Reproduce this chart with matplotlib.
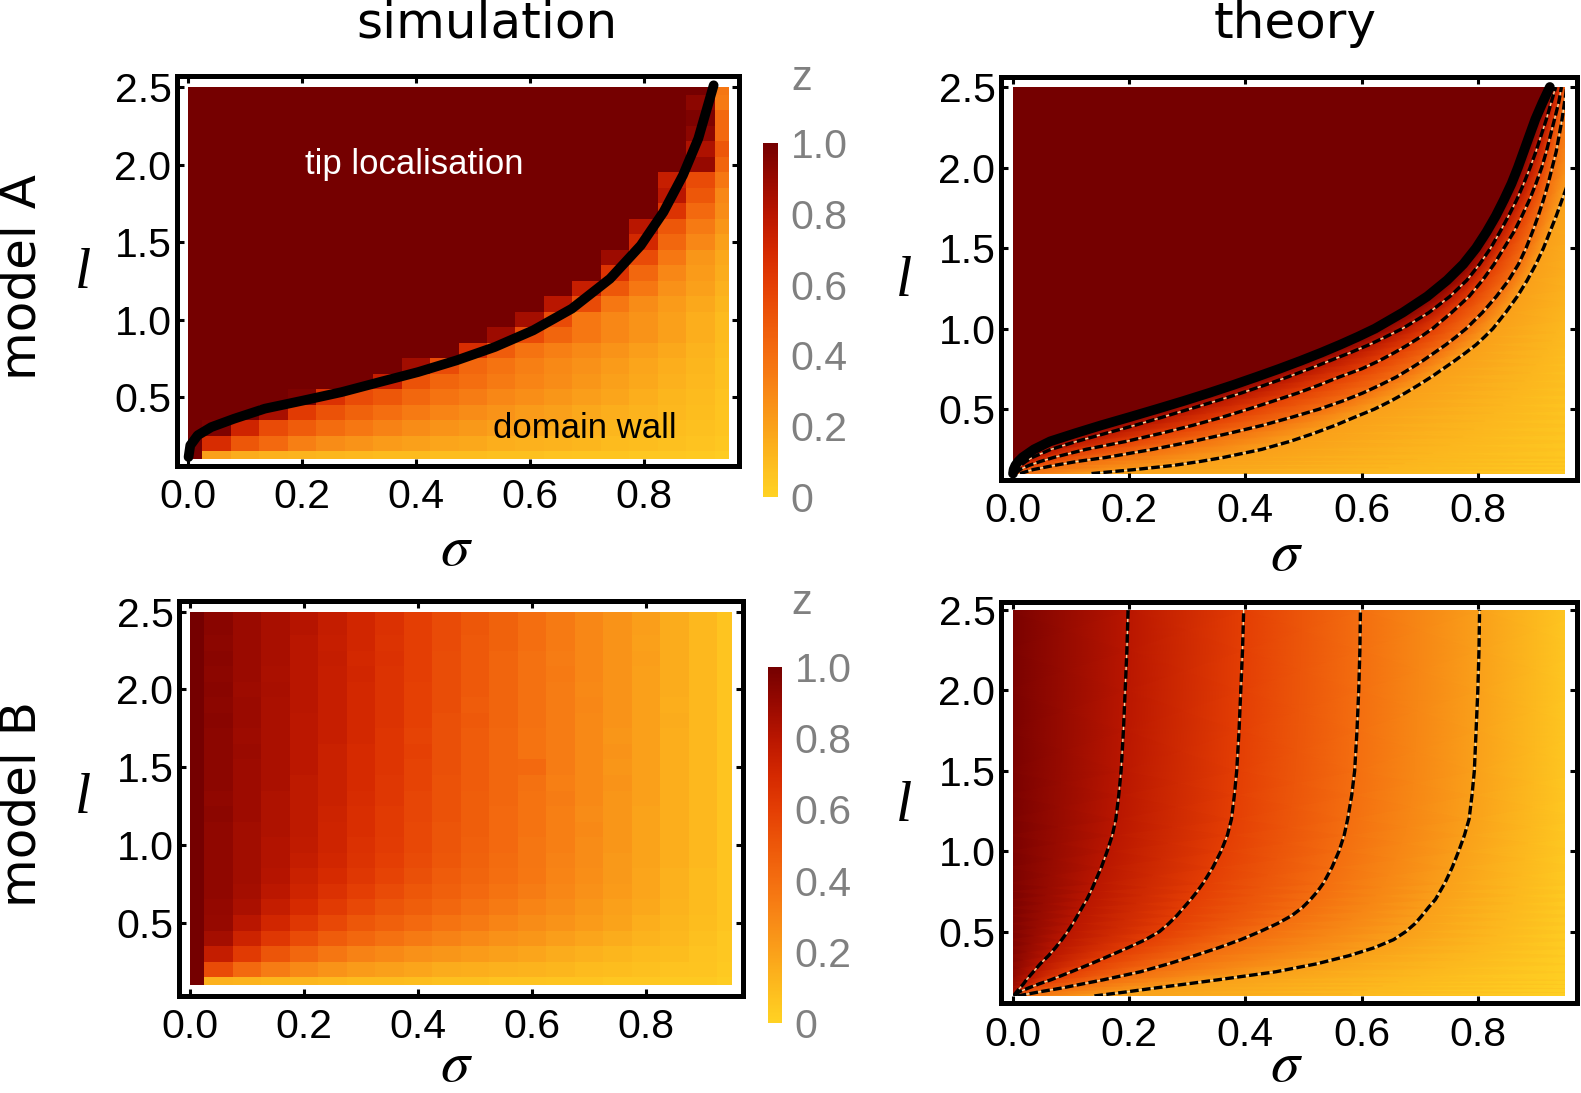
import numpy as np
import matplotlib
matplotlib.use('Agg')
import matplotlib.pyplot as plt
from matplotlib.colors import LinearSegmentedColormap
from matplotlib.patches import Rectangle

# ---- simulation grid ----
sigma = [0.0, 0.05, 0.1, 0.15, 0.2, 0.25, 0.3, 0.35, 0.4, 0.45,
         0.5, 0.55, 0.6, 0.65, 0.7, 0.75, 0.8, 0.85, 0.9, 0.95]
ell = [0.1, 0.2, 0.3, 0.4, 0.5, 0.6, 0.7, 0.8, 0.9, 1.0, 1.1, 1.2, 1.3,
       1.4, 1.5, 1.6, 1.7, 1.8, 1.9, 2.0, 2.1, 2.2, 2.3, 2.4, 2.5]

# model A, simulation (rows from l=0.1 up to l=2.5)
sim_a = [
    [1.0, 0.20, 0.16, 0.14, 0.13, 0.12, 0.11, 0.10, 0.10, 0.09, 0.09, 0.08, 0.08, 0.07, 0.06, 0.06, 0.05, 0.05, 0.04, 0.03],
    [1.0, 0.68, 0.50, 0.42, 0.33, 0.28, 0.25, 0.22, 0.20, 0.18, 0.17, 0.15, 0.14, 0.13, 0.12, 0.10, 0.09, 0.08, 0.07, 0.05],
    [1.0, 0.97, 0.72, 0.55, 0.48, 0.41, 0.36, 0.32, 0.28, 0.25, 0.23, 0.20, 0.18, 0.16, 0.14, 0.12, 0.10, 0.09, 0.08, 0.06],
    [1.0, 1.0, 1.0, 0.85, 0.62, 0.52, 0.45, 0.40, 0.35, 0.31, 0.28, 0.25, 0.22, 0.20, 0.17, 0.15, 0.13, 0.11, 0.09, 0.06],
    [1.0, 1.0, 1.0, 1.0, 0.97, 0.66, 0.55, 0.50, 0.43, 0.38, 0.34, 0.30, 0.27, 0.24, 0.21, 0.18, 0.15, 0.12, 0.10, 0.07],
    [1.0] * 7 + [0.75, 0.52, 0.44, 0.40, 0.35, 0.31, 0.28, 0.24, 0.20, 0.17, 0.14, 0.11, 0.08],
    [1.0] * 8 + [0.87, 0.55, 0.43, 0.38, 0.33, 0.29, 0.26, 0.22, 0.18, 0.15, 0.12, 0.08],
    [1.0] * 10 + [0.68, 0.48, 0.38, 0.33, 0.29, 0.25, 0.21, 0.17, 0.13, 0.09],
    [1.0] * 11 + [0.88, 0.55, 0.44, 0.36, 0.30, 0.25, 0.20, 0.15, 0.10],
    [1.0] * 12 + [0.86, 0.55, 0.36, 0.30, 0.25, 0.20, 0.15, 0.10],
    [1.0] * 13 + [0.80, 0.55, 0.36, 0.28, 0.22, 0.17, 0.12],
    [1.0] * 14 + [0.75, 0.50, 0.36, 0.26, 0.20, 0.14],
    [1.0] * 15 + [0.65, 0.43, 0.30, 0.22, 0.16],
    [1.0] * 15 + [0.88, 0.55, 0.36, 0.24, 0.17],
    [1.0] * 16 + [0.70, 0.43, 0.30, 0.20],
    [1.0] * 16 + [0.80, 0.50, 0.35, 0.24],
    [1.0] * 17 + [0.65, 0.42, 0.28],
    [1.0] * 17 + [0.80, 0.50, 0.30],
    [1.0] * 17 + [0.75, 0.55, 0.36],
    [1.0] * 18 + [0.90, 0.44],
    [1.0] * 18 + [0.83, 0.50],
    [1.0] * 18 + [0.93, 0.42],
    [1.0] * 18 + [0.97, 0.42],
    [1.0] * 18 + [0.93, 0.35],
    [1.0] * 19 + [0.37],
]

# model B, simulation
sim_b = [
    [1.0, 0.14, 0.13, 0.12, 0.12, 0.11, 0.10, 0.10, 0.09, 0.08, 0.08, 0.07, 0.07, 0.06, 0.06, 0.05, 0.05, 0.04, 0.04, 0.03],
    [1.0, 0.55, 0.42, 0.34, 0.29, 0.25, 0.22, 0.20, 0.18, 0.16, 0.15, 0.14, 0.13, 0.12, 0.10, 0.09, 0.08, 0.07, 0.06, 0.04],
    [1.0, 0.76, 0.62, 0.51, 0.43, 0.37, 0.32, 0.29, 0.26, 0.24, 0.22, 0.20, 0.18, 0.16, 0.14, 0.12, 0.10, 0.09, 0.07, 0.05],
    [1.0, 0.86, 0.73, 0.63, 0.55, 0.48, 0.43, 0.39, 0.35, 0.32, 0.29, 0.26, 0.24, 0.21, 0.18, 0.16, 0.13, 0.11, 0.08, 0.05],
    [1.0, 0.90, 0.80, 0.71, 0.63, 0.56, 0.50, 0.46, 0.42, 0.38, 0.35, 0.31, 0.28, 0.25, 0.22, 0.19, 0.15, 0.12, 0.09, 0.06],
    [1.0, 0.91, 0.84, 0.76, 0.69, 0.62, 0.56, 0.51, 0.47, 0.43, 0.39, 0.35, 0.31, 0.28, 0.24, 0.20, 0.17, 0.13, 0.10, 0.06],
    [1.0, 0.92, 0.86, 0.79, 0.72, 0.66, 0.60, 0.55, 0.50, 0.46, 0.42, 0.38, 0.34, 0.30, 0.26, 0.22, 0.18, 0.14, 0.10, 0.06],
    [1.0, 0.92, 0.87, 0.81, 0.74, 0.69, 0.63, 0.58, 0.53, 0.48, 0.44, 0.40, 0.36, 0.31, 0.27, 0.23, 0.18, 0.14, 0.10, 0.06],
    [1.0, 0.92, 0.87, 0.82, 0.76, 0.71, 0.65, 0.60, 0.55, 0.50, 0.45, 0.41, 0.37, 0.32, 0.28, 0.23, 0.19, 0.15, 0.11, 0.06],
    [1.0, 0.92, 0.87, 0.82, 0.77, 0.72, 0.66, 0.61, 0.56, 0.51, 0.46, 0.42, 0.37, 0.33, 0.28, 0.24, 0.19, 0.15, 0.11, 0.06],
    [1.0, 0.92, 0.87, 0.83, 0.78, 0.72, 0.67, 0.62, 0.56, 0.51, 0.47, 0.42, 0.38, 0.33, 0.29, 0.24, 0.19, 0.15, 0.11, 0.06],
    [1.0, 0.93, 0.88, 0.83, 0.78, 0.73, 0.67, 0.62, 0.57, 0.52, 0.47, 0.42, 0.38, 0.33, 0.28, 0.24, 0.19, 0.15, 0.11, 0.06],
    [1.0, 0.92, 0.88, 0.83, 0.78, 0.74, 0.68, 0.63, 0.57, 0.52, 0.47, 0.43, 0.38, 0.34, 0.29, 0.24, 0.20, 0.15, 0.11, 0.06],
    [1.0, 0.93, 0.88, 0.84, 0.78, 0.74, 0.69, 0.63, 0.58, 0.52, 0.48, 0.43, 0.39, 0.33, 0.29, 0.25, 0.20, 0.15, 0.11, 0.06],
    [1.0, 0.93, 0.88, 0.84, 0.79, 0.74, 0.69, 0.64, 0.58, 0.53, 0.48, 0.43, 0.42, 0.34, 0.29, 0.24, 0.20, 0.15, 0.11, 0.06],
    [1.0, 0.93, 0.89, 0.84, 0.79, 0.74, 0.69, 0.64, 0.59, 0.53, 0.48, 0.43, 0.38, 0.34, 0.29, 0.25, 0.20, 0.15, 0.11, 0.06],
    [1.0, 0.93, 0.88, 0.84, 0.79, 0.75, 0.70, 0.64, 0.58, 0.53, 0.48, 0.43, 0.38, 0.34, 0.29, 0.24, 0.20, 0.15, 0.11, 0.06],
    [1.0, 0.94, 0.89, 0.84, 0.79, 0.75, 0.70, 0.65, 0.59, 0.53, 0.49, 0.44, 0.39, 0.34, 0.29, 0.25, 0.20, 0.16, 0.11, 0.06],
    [1.0, 0.93, 0.89, 0.84, 0.80, 0.75, 0.70, 0.65, 0.59, 0.54, 0.48, 0.44, 0.39, 0.34, 0.30, 0.25, 0.20, 0.15, 0.11, 0.06],
    [1.0, 0.94, 0.88, 0.85, 0.80, 0.75, 0.70, 0.65, 0.59, 0.54, 0.49, 0.44, 0.39, 0.34, 0.29, 0.25, 0.20, 0.16, 0.11, 0.06],
    [1.0, 0.93, 0.89, 0.84, 0.80, 0.75, 0.71, 0.65, 0.60, 0.54, 0.49, 0.44, 0.39, 0.35, 0.30, 0.25, 0.20, 0.16, 0.11, 0.06],
    [1.0, 0.94, 0.89, 0.85, 0.80, 0.76, 0.70, 0.66, 0.60, 0.54, 0.49, 0.44, 0.39, 0.34, 0.30, 0.25, 0.21, 0.16, 0.11, 0.06],
    [1.0, 0.93, 0.89, 0.85, 0.80, 0.75, 0.71, 0.65, 0.60, 0.55, 0.49, 0.45, 0.40, 0.35, 0.30, 0.25, 0.20, 0.16, 0.11, 0.06],
    [1.0, 0.94, 0.89, 0.85, 0.81, 0.76, 0.71, 0.66, 0.60, 0.55, 0.50, 0.45, 0.40, 0.35, 0.30, 0.25, 0.21, 0.16, 0.11, 0.06],
    [1.0, 0.93, 0.89, 0.85, 0.80, 0.76, 0.71, 0.66, 0.60, 0.55, 0.50, 0.45, 0.40, 0.35, 0.30, 0.26, 0.21, 0.16, 0.11, 0.06],
]

# phase boundary (sigma, l)
edge_sim_s = [0.001, 0.004, 0.017, 0.041, 0.081, 0.135, 0.203, 0.270, 0.337, 0.404,
              0.472, 0.539, 0.606, 0.674, 0.741, 0.795, 0.835, 0.869, 0.896, 0.923]
edge_sim_l = [0.113, 0.188, 0.253, 0.306, 0.360, 0.425, 0.478, 0.532, 0.597, 0.661,
              0.737, 0.823, 0.930, 1.070, 1.263, 1.478, 1.694, 1.930, 2.167, 2.511]

# ---- theory, model A: sigma position of the boundary and of the z contours, per l ----
th_a_l = [0.1, 0.125, 0.15, 0.175, 0.2, 0.25, 0.3, 0.35, 0.4, 0.45, 0.5, 0.55,
          0.6, 0.65, 0.7, 0.75, 0.8, 0.85, 0.9, 0.95, 1.0, 1.1, 1.2, 1.3,
          1.4, 1.5, 1.6, 1.7, 1.8, 1.9, 2.0, 2.1, 2.2, 2.3, 2.4, 2.5]
th_a_edge = [0.0, 0.001, 0.004, 0.009, 0.016, 0.036, 0.064, 0.107, 0.152, 0.2, 0.247, 0.293,
             0.337, 0.379, 0.419, 0.458, 0.495, 0.53, 0.563, 0.594, 0.623, 0.671, 0.713, 0.747,
             0.775, 0.797, 0.815, 0.831, 0.845, 0.858, 0.869, 0.879, 0.889, 0.899, 0.911, 0.924]
th_a_c08 = [0.002, 0.006, 0.013, 0.022, 0.033, 0.065, 0.11, 0.16, 0.21, 0.257, 0.303, 0.349,
            0.393, 0.434, 0.473, 0.51, 0.545, 0.58, 0.613, 0.642, 0.67, 0.716, 0.752, 0.781,
            0.803, 0.822, 0.838, 0.853, 0.867, 0.879, 0.89, 0.9, 0.909, 0.918, 0.926, 0.934]
th_a_c06 = [0.004, 0.012, 0.027, 0.047, 0.07, 0.125, 0.195, 0.255, 0.31, 0.36, 0.405, 0.448,
            0.49, 0.527, 0.562, 0.6, 0.63, 0.656, 0.68, 0.702, 0.722, 0.755, 0.785, 0.808,
            0.828, 0.845, 0.862, 0.876, 0.889, 0.9, 0.91, 0.918, 0.925, 0.932, 0.939, 0.944]
th_a_c04 = [0.012, 0.035, 0.07, 0.11, 0.16, 0.24, 0.31, 0.372, 0.43, 0.48, 0.527, 0.567,
            0.602, 0.632, 0.66, 0.683, 0.705, 0.725, 0.745, 0.763, 0.78, 0.808, 0.832, 0.853,
            0.87, 0.883, 0.894, 0.904, 0.913, 0.921, 0.928, 0.935, 0.94, 0.945, 0.949, 0.953]
th_a_c02 = [0.135, 0.21, 0.275, 0.322, 0.362, 0.428, 0.477, 0.518, 0.555, 0.588, 0.622, 0.65,
            0.675, 0.698, 0.72, 0.74, 0.76, 0.779, 0.797, 0.812, 0.826, 0.848, 0.868, 0.885,
            0.9, 0.913, 0.924, 0.935, 0.945, 0.955, 0.965, 0.973, 0.98, 0.988, 0.995, 1.0]
th_a_right = [0.02, 0.02, 0.02, 0.02, 0.02, 0.02, 0.02, 0.02, 0.02, 0.02, 0.02, 0.02,
              0.02, 0.03, 0.03, 0.03, 0.03, 0.03, 0.03, 0.03, 0.03, 0.04, 0.05, 0.055,
              0.06, 0.07, 0.08, 0.09, 0.10, 0.11, 0.12, 0.13, 0.14, 0.15, 0.16, 0.18]

# ---- theory, model B ----
th_b_l = [0.1, 0.125, 0.15, 0.175, 0.2, 0.25, 0.3, 0.35, 0.4, 0.45, 0.5, 0.55, 0.6, 0.65,
          0.7, 0.75, 0.8, 0.9, 1.0, 1.1, 1.2, 1.35, 1.5, 1.75, 2.0, 2.25, 2.5]
th_b_c08 = [0.001, 0.006, 0.012, 0.018, 0.023, 0.035, 0.047, 0.061, 0.073, 0.084, 0.094, 0.103,
            0.111, 0.119, 0.127, 0.134, 0.14, 0.152, 0.162, 0.171, 0.177, 0.182, 0.186, 0.19,
            0.193, 0.196, 0.198]
th_b_c06 = [0.004, 0.01, 0.027, 0.045, 0.065, 0.1, 0.134, 0.166, 0.198, 0.228, 0.252, 0.268,
            0.282, 0.294, 0.306, 0.317, 0.327, 0.344, 0.358, 0.369, 0.376, 0.381, 0.385, 0.389,
            0.392, 0.395, 0.397]
th_b_c04 = [0.008, 0.045, 0.085, 0.12, 0.155, 0.219, 0.268, 0.312, 0.354, 0.392, 0.425, 0.455,
            0.48, 0.498, 0.512, 0.524, 0.534, 0.549, 0.561, 0.57, 0.576, 0.583, 0.588, 0.592,
            0.595, 0.597, 0.598]
th_b_c02 = [0.14, 0.195, 0.246, 0.3, 0.352, 0.452, 0.523, 0.578, 0.622, 0.655, 0.676, 0.692,
            0.704, 0.715, 0.727, 0.735, 0.743, 0.756, 0.767, 0.777, 0.785, 0.79, 0.794, 0.797,
            0.8, 0.802, 0.803]

x_ticks = [0.0, 0.2, 0.4, 0.6, 0.8]
y_ticks = [0.5, 1.0, 1.5, 2.0, 2.5]
cbar_ticks = [0, 0.2, 0.4, 0.6, 0.8, 1.0]
cbar_labels = ['0', '0.2', '0.4', '0.6', '0.8', '1.0']

solar = LinearSegmentedColormap.from_list('solar', [
    '#ffd223', '#fdbb1e', '#faa01a', '#f88616', '#f46e10', '#ed5709',
    '#e43e04', '#d42800', '#b91600', '#970900', '#750000'])

plt.rcParams['font.family'] = 'Liberation Sans'
plt.rcParams['mathtext.fontset'] = 'stix'

fig = plt.figure(figsize=(15.81, 10.93), dpi=100)
W, H = 1581.0, 1093.0


def px_axes(x0, y0, x1, y1):
    return fig.add_axes([x0 / W, 1 - y1 / H, (x1 - x0) / W, (y1 - y0) / H])


def style(ax, xlim, ylim):
    ax.set_xlim(*xlim)
    ax.set_ylim(*ylim)
    ax.set_xticks(x_ticks)
    ax.set_xticklabels(['%.1f' % v for v in x_ticks])
    ax.set_yticks(y_ticks)
    ax.set_yticklabels(['%.1f' % v for v in y_ticks])
    for s in ax.spines.values():
        s.set_linewidth(3.6)
    ax.tick_params(direction='in', length=5, width=2.2, top=True, right=True,
                   labelsize=29.5)
    ax.tick_params(axis='x', pad=9)
    ax.tick_params(axis='y', pad=4)


def cell_edges(v):
    v = np.asarray(v)
    mid = (v[1:] + v[:-1]) / 2
    return np.concatenate([[v[0]], mid, [v[-1]]])


def sim_panel(ax, data):
    ax.pcolormesh(cell_edges(sigma), cell_edges(ell), np.array(data),
                  cmap=solar, vmin=0, vmax=1, shading='flat')


def theory_mesh(ax, X, Y, Z):
    m = ax.pcolormesh(X, Y, Z, cmap=solar, vmin=0, vmax=1, shading='gouraud')
    m.set_clip_path(Rectangle((0, 0.1), 0.95, 2.4, transform=ax.transData))
    return m


def dashed(ax, s, l):
    clip = Rectangle((0, 0.1), 0.95, 2.4, transform=ax.transData)
    a, = ax.plot(s, l, color='#f3dca8', lw=1.0, zorder=4)
    b, = ax.plot(s, l, color='black', lw=2.4, dashes=(2.6, 1.0), zorder=5)
    a.set_clip_path(clip)
    b.set_clip_path(clip)


# ---------- model A, simulation ----------
ax1 = px_axes(177, 76, 739, 466)
sim_panel(ax1, sim_a)
ax1.plot(edge_sim_s, edge_sim_l, color='black', lw=7, solid_capstyle='round', zorder=5)
ax1.text(0.397, 2.0, 'tip localisation', color='white', fontsize=25, ha='center', va='center')
ax1.text(0.697, 0.294, 'domain wall', color='black', fontsize=25, ha='center', va='center')
style(ax1, (-0.0193, 0.9675), (0.055, 2.571))

# ---------- model A, theory ----------
ax2 = px_axes(1001, 77, 1577, 480)
n = len(th_a_l)
XA = np.column_stack([[-0.05] * n, th_a_edge, th_a_c08, th_a_c06, th_a_c04, th_a_c02, [1.05] * n])
YA = np.column_stack([th_a_l] * 7)
ZA = np.column_stack([[1.0] * n, [1.0] * n, [0.8] * n, [0.6] * n, [0.4] * n, [0.2] * n, th_a_right])
theory_mesh(ax2, XA, YA, ZA)
for c in [th_a_c08, th_a_c06, th_a_c04, th_a_c02]:
    dashed(ax2, c, th_a_l)
ax2.plot(th_a_edge, th_a_l, color='black', lw=7, solid_capstyle='round', zorder=6)
style(ax2, (-0.0207, 0.9707), (0.060, 2.562))

# ---------- model B, simulation ----------
ax3 = px_axes(179, 601, 743, 996)
sim_panel(ax3, sim_b)
style(ax3, (-0.0193, 0.970), (0.029, 2.569))

# ---------- model B, theory ----------
ax4 = px_axes(1001, 602, 1577, 1003)
n = len(th_b_l)
XB = np.column_stack([[-0.02] * n, th_b_c08, th_b_c06, th_b_c04, th_b_c02, [1.0] * n])
YB = np.column_stack([th_b_l] * 6)
ZB = np.column_stack([[1.0] * n, [0.8] * n, [0.6] * n, [0.4] * n, [0.2] * n, [0.0] * n])
mB = theory_mesh(ax4, XB, YB, ZB)
for c in [th_b_c08, th_b_c06, th_b_c04, th_b_c02]:
    dashed(ax4, c, th_b_l)
style(ax4, (-0.0207, 0.9707), (0.056, 2.55))

# ---------- colour bars ----------
for (x0, y0, x1, y1), zy in [((763, 143, 778, 497), 79), ((768, 667, 782, 1023), 603)]:
    cax = px_axes(x0, y0, x1, y1)
    cb = fig.colorbar(mB, cax=cax, ticks=cbar_ticks)
    cb.outline.set_visible(False)
    cb.ax.set_yticklabels(cbar_labels)
    cb.ax.tick_params(length=0, pad=9, labelsize=29.5, labelcolor='#808080')
    fig.text(802 / W, 1 - zy / H, 'z', color='#808080', fontsize=30, ha='center', va='center')

# ---------- labels ----------
fig.text(487 / W, 1 - 24 / H, 'simulation', fontsize=36, family='DejaVu Sans', ha='center', va='center')
fig.text(1295 / W, 1 - 24 / H, 'theory', fontsize=36, family='DejaVu Sans', ha='center', va='center')
fig.text(22 / W, 1 - 277 / H, 'model A', fontsize=36, family='DejaVu Sans', rotation=90,
         ha='center', va='center')
fig.text(22 / W, 1 - 804 / H, 'model B', fontsize=36, family='DejaVu Sans', rotation=90,
         ha='center', va='center')

for x, y in [(457, 550), (1286, 555), (457, 1066), (1286, 1066)]:
    fig.text(x / W, 1 - y / H, r'$\sigma$', fontsize=42, ha='center', va='center')
for x, y in [(83, 274), (904, 282), (83, 799), (904, 807)]:
    fig.text(x / W, 1 - y / H, 'l', fontsize=42, family='Liberation Serif', style='italic',
             ha='center', va='center')

fig.savefig('out.png', dpi=100)
